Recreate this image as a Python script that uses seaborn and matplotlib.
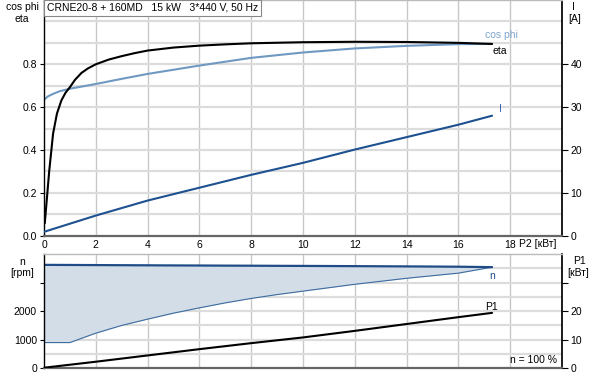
import numpy as np
import pandas as pd
import matplotlib
matplotlib.use("Agg")
import matplotlib.pyplot as plt
import seaborn as sns

# ---- data ----
title = "CRNE20-8 + 160MD   15 kW   3*440 V, 50 Hz"
eta_x = [0.03, 0.2, 0.35, 0.5, 0.67, 0.83, 1.0, 1.2, 1.45, 1.7, 2.0, 2.5, 3.0, 3.5, 4.0, 5.0, 6.0, 7.0, 8.0, 10.0, 12.0, 14.0, 16.0, 17.3]
eta_y = [0.058, 0.30, 0.476, 0.57, 0.631, 0.667, 0.693, 0.728, 0.760, 0.781, 0.80, 0.822, 0.838, 0.852, 0.864, 0.878, 0.887, 0.893, 0.898, 0.903, 0.905, 0.904, 0.900, 0.895]
cos_x = [0.0, 0.15, 0.35, 0.6, 1.0, 2.0, 3.0, 4.0, 6.0, 8.0, 10.0, 12.0, 14.0, 16.0, 17.3]
cos_y = [0.634, 0.650, 0.662, 0.674, 0.686, 0.708, 0.732, 0.755, 0.794, 0.83, 0.855, 0.874, 0.886, 0.894, 0.895]
i_x = [0.0, 2.0, 4.0, 6.0, 8.0, 10.0, 12.0, 14.0, 16.0, 17.3]
i_y = [0.9, 4.7, 8.2, 11.2, 14.2, 17.0, 20.1, 23.0, 25.9, 28.0]
n_x = [0.0, 1.0, 2.0, 3.0, 4.0, 5.0, 6.0, 7.0, 8.0, 9.0, 10.0, 12.0, 14.0, 16.0, 17.3]
n_max = [3620, 3616, 3612, 3608, 3604, 3600, 3597, 3593, 3590, 3586, 3583, 3575, 3566, 3555, 3540]
n_min = [900, 900, 1230, 1500, 1720, 1930, 2115, 2290, 2445, 2580, 2700, 2940, 3150, 3330, 3540]
p1_x = [0.0, 2.0, 4.0, 6.0, 8.0, 10.0, 12.0, 14.0, 16.0, 17.3]
p1_y = [0.2, 2.3, 4.5, 6.7, 8.8, 10.8, 13.1, 15.5, 17.9, 19.4]
x_ticks = [0, 2, 4, 6, 8, 10, 12, 14, 16, 18]

sns.set_theme(style="white")
plt.rcParams['font.family'] = ['Liberation Sans', 'DejaVu Sans']
FS = 7.5

W, H = 595, 377
fig = plt.figure(figsize=(W / 100, H / 100), dpi=100)

def fx(px):
    return px / W

def fy(py):
    return 1 - py / H

L, R = 44, 562
ax1 = fig.add_axes([fx(L), fy(235.7), fx(R - L), fy(0) - fy(235.7)])
ax2 = fig.add_axes([fx(L), fy(368.3), fx(R - L), fy(254) - fy(368.3)])

grid_h = '#dcdcdc'
grid_v = '#c8c8c8'
blue_cos = '#6f99c2'
blue_i = '#1d5190'
blue_n = '#1f4c86'

for ax in (ax1, ax2):
    ax.set_xlim(0, 20)
    ax.set_xticks(x_ticks)
    ax.grid(False)
    for x in x_ticks[1:]:
        ax.axvline(x, color=grid_v, lw=1.0, zorder=0)
    ax.spines['left'].set_color('black')
    ax.spines['left'].set_linewidth(1.0)
    ax.spines['bottom'].set_color('#666666')
    ax.spines['bottom'].set_linewidth(1.6)
    ax.spines['top'].set_color('#bbbbbb')
    ax.spines['top'].set_linewidth(1.0)
    ax.spines['right'].set_color('black')
    ax.tick_params(axis='both', labelsize=FS, colors='black', length=3, width=0.8, pad=2)
    ax.tick_params(axis='x', length=0, pad=3)
    ax.set_xlabel('')
    ax.set_ylabel('')

# ---- top chart ----
ax1.set_ylim(0, 1.1)
ax1.set_yticks([0, 0.2, 0.4, 0.6, 0.8])
ax1.set_yticklabels(['0.0', '0.2', '0.4', '0.6', '0.8'])
for yv in np.arange(0.1, 1.05, 0.1):
    ax1.axhline(yv, color=grid_h, lw=1.6, zorder=0)
ax1.set_xticklabels([str(t) for t in x_ticks])

df_eta = pd.DataFrame({'P2': eta_x, 'eta': eta_y})
df_cos = pd.DataFrame({'P2': cos_x, 'cos': cos_y})
sns.lineplot(data=df_cos, x='P2', y='cos', ax=ax1, color=blue_cos, lw=1.5, estimator=None, sort=False)
sns.lineplot(data=df_eta, x='P2', y='eta', ax=ax1, color='black', lw=1.5, estimator=None, sort=False)
ax1.set_xlabel('')
ax1.set_ylabel('')

ax1r = ax1.twinx()
ax1r.set_xlim(0, 20)
ax1r.set_ylim(0, 55)
df_i = pd.DataFrame({'P2': i_x, 'I': i_y})
sns.lineplot(data=df_i, x='P2', y='I', ax=ax1r, color=blue_i, lw=1.5, estimator=None, sort=False)
ax1r.set_yticks([0, 10, 20, 30, 40])
ax1r.tick_params(axis='y', labelsize=FS, colors='black', length=4, width=0.8, pad=2, right=True)
ax1r.set_ylabel('')
ax1r.grid(False)
for s in ax1r.spines.values():
    s.set_visible(False)

# ---- bottom chart ----
ax2.set_ylim(0, 4000)
ax2.set_yticks([0, 1000, 2000, 3000])
ax2.set_yticklabels(['0', '1000', '2000', ''])
for yv in range(500, 4000, 500):
    ax2.axhline(yv, color=grid_h, lw=1.6, zorder=0)
ax2.set_xticklabels([])

ax2.fill_between(n_x, n_min, n_max, color='#d2dde8', lw=0, zorder=1)
df_nmax = pd.DataFrame({'P2': n_x, 'n': n_max})
df_nmin = pd.DataFrame({'P2': n_x, 'n': n_min})
sns.lineplot(data=df_nmin, x='P2', y='n', ax=ax2, color='#3d6b9e', lw=0.8, estimator=None, sort=False)
sns.lineplot(data=df_nmax, x='P2', y='n', ax=ax2, color=blue_n, lw=1.6, estimator=None, sort=False)
ax2.set_xlabel('')
ax2.set_ylabel('')

ax2r = ax2.twinx()
ax2r.set_xlim(0, 20)
ax2r.set_ylim(0, 40)
df_p1 = pd.DataFrame({'P2': p1_x, 'P1': p1_y})
sns.lineplot(data=df_p1, x='P2', y='P1', ax=ax2r, color='black', lw=1.5, estimator=None, sort=False)
ax2r.set_yticks([0, 10, 20, 30])
ax2r.set_yticklabels(['0', '10', '20', ''])
ax2r.tick_params(axis='y', labelsize=FS, colors='black', length=4, width=0.8, pad=2, right=True)
ax2r.set_ylabel('')
ax2r.grid(False)
for s in ax2r.spines.values():
    s.set_visible(False)

# ---- texts ----
def t(px, py, s, ha='center', color='black', **kw):
    fig.text(fx(px), fy(py), s, ha=ha, va='center', fontsize=FS, color=color, **kw)

t(22, 7, 'cos phi')
t(22, 19, 'eta')
t(573, 7, 'I')
t(575, 19, '[A]')
t(501, 35.5, 'cos phi', color='#7fa6cc')
t(500, 51, 'eta')
t(500, 109, 'I', color='#3a5fb0')
t(538, 244, 'P2 [кВт]')
t(22, 262, 'n')
t(22, 273, '[rpm]')
t(579, 261, 'P1')
t(578, 273, '[кВт]')
t(492, 276, 'n', color=blue_n)
t(492, 307.5, 'P1')
t(533, 360, 'n = 100 %')

fig.text(fx(47), fy(8), title, ha='left', va='center', fontsize=FS, color='black',
         bbox=dict(boxstyle='square,pad=0.3', fc='white', ec='#888888', lw=0.8))

fig.savefig('out.png', dpi=100)
